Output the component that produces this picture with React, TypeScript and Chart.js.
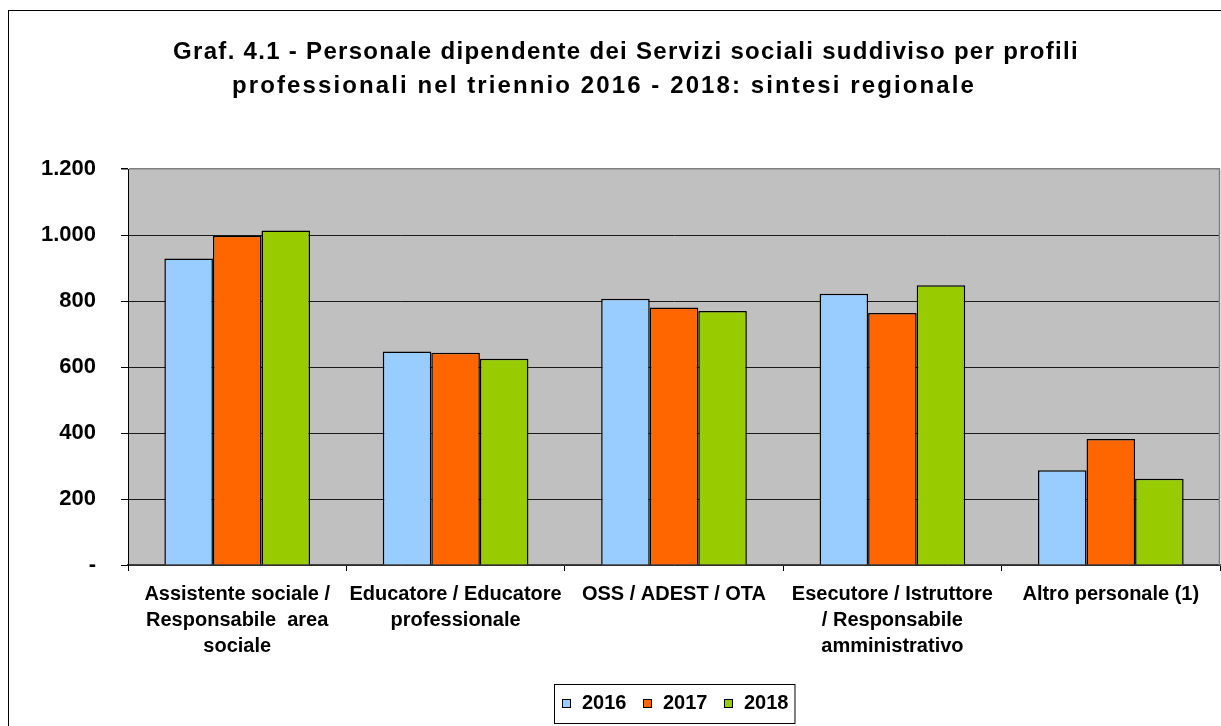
import React, { useEffect, useRef } from 'react';
import { Chart, registerables } from 'chart.js';

Chart.register(...registerables);

const titleLines = [
  'Graf. 4.1 - Personale dipendente dei Servizi sociali suddiviso per profili',
  'professionali nel triennio 2016 - 2018: sintesi regionale',
];

const categories: string[][] = [
  ['Assistente sociale /', 'Responsabile  area', 'sociale'],
  ['Educatore / Educatore', 'professionale'],
  ['OSS / ADEST / OTA'],
  ['Esecutore / Istruttore', '/ Responsabile', 'amministrativo'],
  ['Altro personale (1)'],
];

const seriesLabels = ['2016', '2017', '2018'];
const values2016 = [929, 647, 807, 822, 287];
const values2017 = [998, 643, 780, 764, 382];
const values2018 = [1014, 625, 770, 848, 261];
const seriesColors = ['#99CCFF', '#FF6600', '#99CC00'];

const yMin = 0;
const yMax = 1200;
const yStep = 200;

const FONT = '"Liberation Sans", Arial, Helvetica, sans-serif';

function formatTick(v: number): string {
  if (v === 0) return '-';
  return String(v).replace(/\B(?=(\d{3})+(?!\d))/g, '.');
}

const framePlugin = {
  id: 'framePlugin',
  beforeDraw(chart: any) {
    const { ctx, chartArea } = chart;
    ctx.save();
    ctx.fillStyle = '#ffffff';
    ctx.fillRect(0, 0, chart.width, chart.height);
    ctx.strokeStyle = '#000000';
    ctx.lineWidth = 1;
    ctx.strokeRect(8.5, 10.5, 3000, 3000);
    ctx.fillStyle = '#C0C0C0';
    ctx.fillRect(chartArea.left, chartArea.top, chartArea.right - chartArea.left, chartArea.bottom - chartArea.top);
    ctx.restore();
  },
  afterDraw(chart: any) {
    const { ctx, chartArea } = chart;
    ctx.save();
    ctx.strokeStyle = '#808080';
    ctx.lineWidth = 1.5;
    ctx.beginPath();
    ctx.moveTo(chartArea.right - 0.5, chartArea.top);
    ctx.lineTo(chartArea.right - 0.5, chartArea.bottom);
    ctx.stroke();

    // title
    ctx.fillStyle = '#000000';
    ctx.font = `bold 24px ${FONT}`;
    ctx.textAlign = 'left';
    ctx.textBaseline = 'alphabetic';
    try { (ctx as any).letterSpacing = '1.3px'; } catch (e) {}
    const w0 = ctx.measureText(titleLines[0]).width;
    ctx.fillText(titleLines[0], 626 - w0 / 2, 59);
    try { (ctx as any).letterSpacing = '2.1px'; } catch (e) {}
    const w1 = ctx.measureText(titleLines[1]).width;
    ctx.fillText(titleLines[1], 604 - w1 / 2, 93);
    try { (ctx as any).letterSpacing = '0px'; } catch (e) {}

    // legend
    const ds = chart.data.datasets;
    ctx.font = `bold 20px ${FONT}`;
    const sq = 9;
    let x = 562;
    const sqTop = 699;
    const textBase = 709;
    const startX = x;
    let endX = x;
    ds.forEach((d: any) => {
      ctx.fillStyle = d.backgroundColor;
      ctx.fillRect(x, sqTop, sq, sq);
      ctx.strokeStyle = '#000';
      ctx.lineWidth = 1;
      ctx.strokeRect(x + 0.5, sqTop + 0.5, sq - 1, sq - 1);
      const tx = x + 20;
      ctx.fillStyle = '#000';
      ctx.fillText(d.label, tx, textBase);
      const w = ctx.measureText(d.label).width;
      endX = tx + w;
      x = endX + 16.5;
    });
    ctx.strokeStyle = '#000';
    ctx.lineWidth = 1;
    ctx.strokeRect(startX - 8 + 0.5, 684.5, endX + 6 - (startX - 8), 39);
    ctx.restore();
  },
};

export default function App() {
  const canvasRef = useRef<HTMLCanvasElement | null>(null);

  useEffect(() => {
    const canvas = canvasRef.current;
    if (!canvas) return;
    const chart = new Chart(canvas, {
      type: 'bar',
      data: {
        labels: categories,
        datasets: [values2016, values2017, values2018].map((vals, i) => ({
          label: seriesLabels[i],
          data: vals,
          backgroundColor: seriesColors[i],
          borderColor: '#000000',
          borderWidth: 1.5,
          categoryPercentage: 0.667,
          barPercentage: 1,
        })),
      },
      options: {
        responsive: false,
        maintainAspectRatio: false,
        animation: false,
        devicePixelRatio: 1,
        layout: { padding: { top: 169, left: 0, right: 1, bottom: 0 } },
        plugins: {
          legend: { display: false },
          title: { display: false },
          tooltip: { enabled: false },
        },
        scales: {
          x: {
            offset: true,
            grid: {
              display: true,
              offset: true,
              drawOnChartArea: false,
              drawTicks: true,
              tickLength: 6,
              tickColor: '#000000',
              lineWidth: 1,
            },
            border: { display: true, color: '#404040', width: 1.5 },
            ticks: {
              color: '#000000',
              font: { family: FONT, size: 20, weight: 'bold', lineHeight: 1.3 },
              padding: 10,
              maxRotation: 0,
              autoSkip: false,
            },
            afterFit(scale: any) {
              scale.height = 161;
            },
          },
          y: {
            min: yMin,
            max: yMax,
            ticks: {
              stepSize: yStep,
              color: '#000000',
              font: { family: FONT, size: 22, weight: 'bold' },
              padding: 25,
              callback: (v: any) => formatTick(Number(v)),
            },
            grid: {
              color: (c: any) => (c.tick && c.tick.value === yMax ? '#808080' : '#1a1a1a'),
              lineWidth: (c: any) => (c.tick && c.tick.value === yMax ? 1.5 : 1),
              tickLength: 7,
              tickColor: '#000000',
            },
            border: { display: true, color: '#000000', width: 1 },
            afterFit(scale: any) {
              scale.width = 128;
            },
          },
        },
      },
      plugins: [framePlugin],
    } as any);
    return () => chart.destroy();
  }, []);

  return (
    <div style={{ position: 'fixed', left: 0, top: 0, width: 1221, height: 726, overflow: 'hidden', background: '#fff' }}>
      <canvas ref={canvasRef} width={1221} height={726} style={{ display: 'block', width: 1221, height: 726 }} />
    </div>
  );
}
